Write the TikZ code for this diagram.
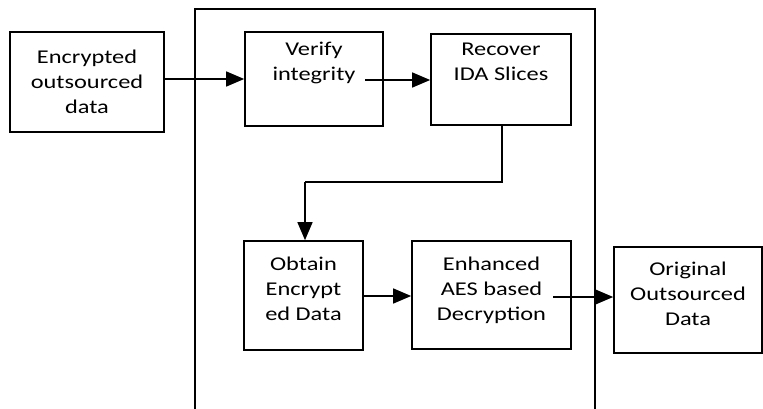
\documentclass[tikz,border=0pt]{standalone}
\usepackage{fontspec}
\setmainfont{Carlito}[FakeStretch=1.25]
\usetikzlibrary{arrows.meta}
\begin{document}
\begin{tikzpicture}[x=1pt,y=-1pt,
  box/.style={draw,line width=1.6pt,rectangle,inner sep=0pt},
  lbl/.style={align=center,font=\fontsize{19.5}{25}\selectfont,inner sep=0pt},
  flow/.style={line width=1.4pt,-{Triangle[length=18pt,width=15pt]}},
  link/.style={line width=1.4pt}]
\useasboundingbox (0,0) rectangle (763,409);
% enclosing frame, open at the bottom
\draw[line width=1.6pt] (195,409) -- (195,9) -- (595,9) -- (595,409);
% boxes
\node[box,minimum width=154pt,minimum height=100pt] (src) at (87,82) {};
\node[lbl] (srct) at (src.center) {Encrypted\\outsourced\\data};
\node[box,minimum width=138pt,minimum height=94pt] (ver) at (314,79) {};
\node[lbl,anchor=north] (vert) at (314,42) {Verify\\integrity};
\node[box,minimum width=140pt,minimum height=91pt] (rec) at (501,79.5) {};
\node[lbl,anchor=north] (rect) at (501,43) {Recover\\IDA Slices};
\node[box,minimum width=119pt,minimum height=109pt] (obt) at (303.5,295.5) {};
\node[lbl] (obtt) at (303.5,289) {Obtain\\Encrypt\\ed Data};
\node[box,minimum width=159pt,minimum height=108pt] (enh) at (491.5,295) {};
\node[lbl] (enht) at (491.5,290) {Enhanced\\AES based\\Decryption};
\node[box,minimum width=148pt,minimum height=106pt] (orig) at (688,300) {};
\node[lbl] (origt) at (688,294) {Original\\Outsourced\\Data};
% connectors
\coordinate (vout) at (365,80);
\coordinate (eout) at (553,297);
\coordinate (bend) at (502,182);
\draw[flow] (src.east |- 0,79) -- (ver.west |- 0,79);
\draw[flow] (vout) -- (rec.west |- vout);
\draw[link] (rec.south -| bend) -- (bend) -- (305,182);
\draw[flow] (305,182) -- (obt.north -| 305,0);
\draw[flow] (obt.east |- 0,296) -- (enh.west |- 0,296);
\draw[flow] (eout) -- (orig.west |- eout);
\end{tikzpicture}
\end{document}
